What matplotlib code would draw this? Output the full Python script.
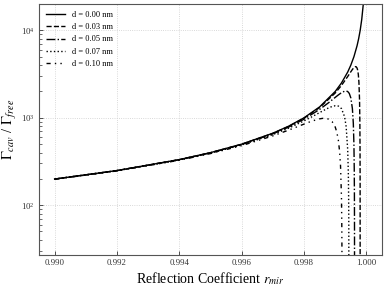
import matplotlib
matplotlib.use("Agg")
import matplotlib.pyplot as plt

plt.rcParams['font.family'] = ['Liberation Serif', 'DejaVu Serif']
plt.rcParams['mathtext.fontset'] = 'stix'

# d = 0.00 nm
r_000 = [0.990, 0.992, 0.994, 0.995, 0.996, 0.997, 0.9975, 0.998, 0.9985, 0.999,
         0.9992, 0.9994, 0.9995, 0.9996, 0.9997, 0.99975, 0.9998, 0.99985, 0.9999, 0.99992]
g_000 = [199, 249, 332.3, 399, 499, 665.7, 799, 999, 1332, 1999,
         2499, 3332, 3999, 4999, 6666, 7999, 9999, 13332, 19999, 24999]

# d = 0.03 nm
r_003 = [0.990, 0.992, 0.994, 0.995, 0.996, 0.997, 0.9975, 0.998, 0.9985, 0.999,
         0.9992, 0.9994, 0.9995, 0.99955, 0.9996, 0.99965, 0.99967, 0.9997, 0.99972,
         0.99974, 0.99976, 0.99978, 0.99979, 0.999795, 0.999798, 0.9998]
g_003 = [198.9, 248.8, 331.9, 398.4, 497.8, 662.7, 793.9, 989, 1308.6, 1919,
         2343, 2962, 3359, 3565, 3749, 3848, 3834, 3704, 3498,
         3140, 2546, 1578, 885.6, 470, 195, 1]

# d = 0.05 nm
r_005 = [0.990, 0.992, 0.994, 0.995, 0.996, 0.997, 0.9975, 0.998, 0.9985, 0.9988,
         0.999, 0.9991, 0.9992, 0.9993, 0.99935, 0.9994, 0.99945, 0.9995, 0.99955,
         0.99958, 0.9996, 0.99961, 0.999615, 0.999618, 0.99962]
g_005 = [198.7, 248.4, 331, 396.7, 494.5, 655, 780.5, 963, 1246.8, 1498.6,
         1710, 1825, 1935, 2014, 2024.6, 1995.5, 1899.6, 1689, 1274.7,
         863.6, 487.4, 259.4, 134, 54.4, 1]

# d = 0.07 nm
r_007 = [0.990, 0.992, 0.994, 0.995, 0.996, 0.997, 0.9975, 0.998, 0.9983, 0.9985,
         0.9987, 0.9988, 0.9989, 0.999, 0.9991, 0.9992, 0.9993, 0.99935, 0.9994,
         0.99942, 0.99943, 0.999435, 0.99944]
g_007 = [198.4, 247.8, 329.4, 394, 489.2, 642.5, 758.9, 920.7, 1048, 1146.6,
         1252, 1303, 1346, 1372, 1361, 1274.5, 1028, 792.7, 429.5,
         233.7, 122, 62.3, 1]

# d = 0.10 nm
r_010 = [0.990, 0.992, 0.994, 0.995, 0.996, 0.997, 0.9975, 0.998, 0.9982, 0.9984,
         0.9985, 0.9986, 0.9987, 0.9988, 0.9989, 0.999, 0.99905, 0.9991, 0.99914,
         0.99917, 0.9992, 0.99921, 0.999215, 0.99922]
g_010 = [197.8, 246.6, 326.7, 389.3, 480, 620.7, 721, 847, 901.6, 952,
         972, 984.5, 984, 962, 903.5, 782.8, 685.7, 552.8, 412.5,
         281.4, 123.5, 63.5, 32.4, 1]

labels = ['d = 0.00 nm', 'd = 0.03 nm', 'd = 0.05 nm', 'd = 0.07 nm', 'd = 0.10 nm']
xticks = [0.990, 0.992, 0.994, 0.996, 0.998, 1.000]

fig = plt.figure(figsize=(3.92, 2.88), dpi=100)
ax = fig.add_axes([0.0995, 0.115, 0.875, 0.871])

series = [(r_000, g_000, '-'), (r_003, g_003, '--'), (r_005, g_005, '-.'),
          (r_007, g_007, ':'), (r_010, g_010, (0, (3, 3, 1, 3, 1, 3)))]
for (rx, gy, ls), lab in zip(series, labels):
    ax.plot(rx, gy, color='black', linestyle=ls, linewidth=1.0, label=lab)

ax.set_yscale('log')
ax.set_xlim(0.9895, 1.0005)
ax.set_ylim(27, 2e4)
ax.set_xticks(xticks)
ax.set_xticklabels([f'{v:.3f}' for v in xticks])
ax.tick_params(axis='both', which='both', direction='in', labelsize=6.3, colors='#333333')
ax.tick_params(axis='both', which='major', length=3, width=0.6, pad=3)
ax.tick_params(axis='both', which='minor', length=1.8, width=0.5)
ax.grid(True, which='major', color='#cccccc', linestyle=':', linewidth=0.6)
for sp in ax.spines.values():
    sp.set_color('#555555')
    sp.set_linewidth(0.8)

ax.set_xlabel(r'Reflection Coefficient $r_{mir}$', fontsize=10, labelpad=2)
ax.set_ylabel(r'$\Gamma_{cav}$ / $\Gamma_{free}$', fontsize=10.5)
ax.yaxis.set_label_coords(-0.058, 0.5)

ax.legend(loc='upper left', frameon=False, fontsize=6, handlelength=2.3,
          labelspacing=0.5, borderaxespad=0.45, handletextpad=0.8)

fig.savefig('out.png', dpi=100)
